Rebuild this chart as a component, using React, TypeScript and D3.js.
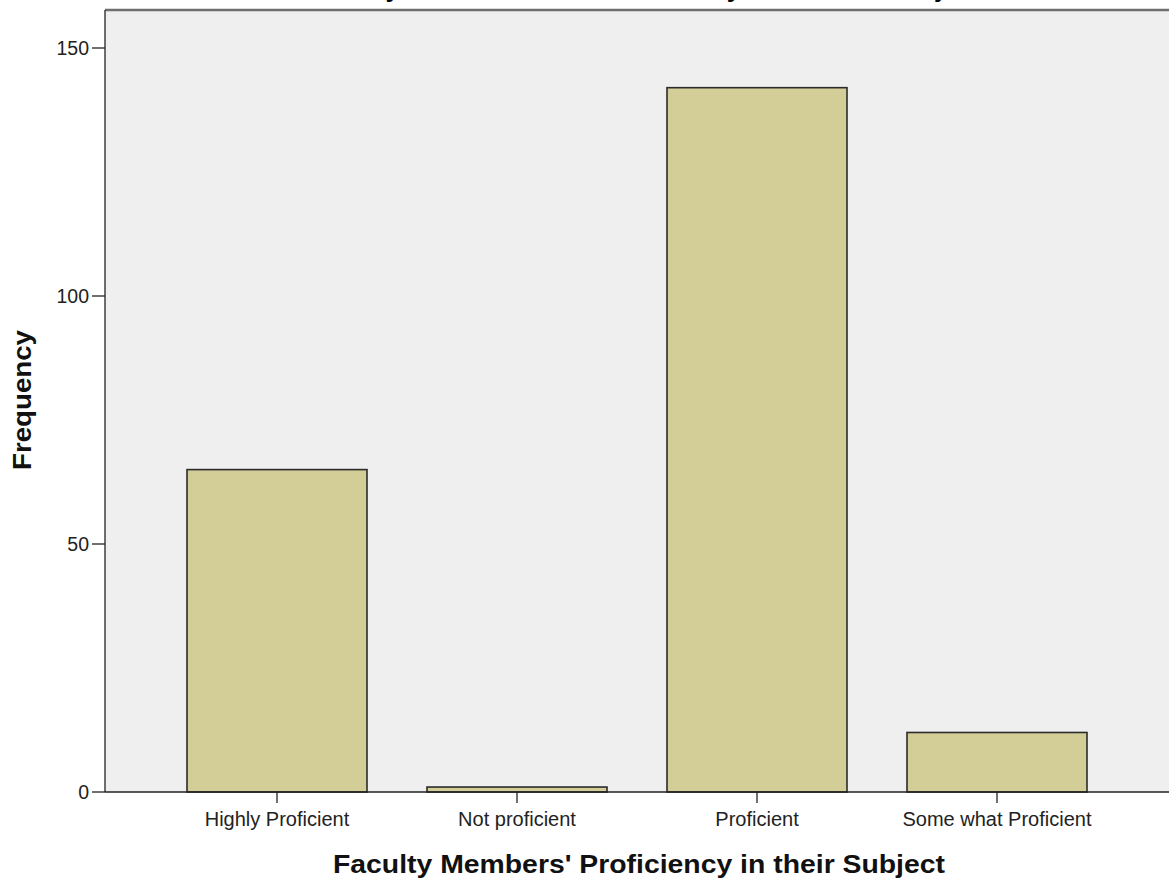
import React from "react";
import * as d3 from "d3";

const categories = ["Highly Proficient", "Not proficient", "Proficient", "Some what Proficient"];
const frequencies = [65, 1, 142, 12];
const yTicks = [0, 50, 100, 150];
const xTitle = "Faculty Members' Proficiency in their Subject";
const yTitle = "Frequency";

export default function App() {
  const W = 1169, H = 881;
  const left = 105, top = 10, bottom = 792;
  const x = d3.scaleBand<string>().domain(categories).range([157, 1117]).paddingInner(0.25).paddingOuter(0.125);
  const y = d3.scaleLinear().domain([0, 150]).range([bottom, 48]);
  const font = "'Liberation Sans', Arial, sans-serif";
  return (
    <div style={{ position: "absolute", left: 0, top: 0 }}>
      <svg width={W} height={H} style={{ display: "block", background: "#fff" }} fontFamily={font}>
        <text x={640} y={-3} textAnchor="middle" fontSize={26} fontWeight="bold" fill="#000" textLength={700} lengthAdjust="spacing">{xTitle}</text>
        <rect x={left} y={top} width={W - left + 2} height={bottom - top} fill="#efefef" />
        <line x1={left} x2={W} y1={top} y2={top} stroke="#6e6e6e" strokeWidth={2.5} />
        {categories.map((c, i) => (
          <rect key={c} x={x(c)!} y={y(frequencies[i])} width={x.bandwidth()} height={bottom - y(frequencies[i])}
            fill="#d3ce97" stroke="#2b2b2b" strokeWidth={1.6} />
        ))}
        <line x1={left} x2={left} y1={top} y2={bottom} stroke="#222" strokeWidth={1.3} />
        <line x1={left} x2={W} y1={bottom} y2={bottom} stroke="#222" strokeWidth={1.3} />
        {yTicks.map(t => (
          <g key={t}>
            <line x1={92} x2={left} y1={y(t)} y2={y(t)} stroke="#222" strokeWidth={1.3} />
            <text x={89} y={y(t) + 7} textAnchor="end" fontSize={19.5} fill="#222">{t}</text>
          </g>
        ))}
        {categories.map(c => {
          const cx = x(c)! + x.bandwidth() / 2;
          return (
            <g key={c}>
              <line x1={cx} x2={cx} y1={bottom} y2={803} stroke="#222" strokeWidth={1.3} />
              <text x={cx} y={826} textAnchor="middle" fontSize={20} fill="#222">{c}</text>
            </g>
          );
        })}
        <text x={639} y={873} textAnchor="middle" fontSize={25} fontWeight="bold" fill="#111" textLength={612} lengthAdjust="spacingAndGlyphs">{xTitle}</text>
        <text transform={`translate(31,400) rotate(-90)`} textAnchor="middle" fontSize={25} fontWeight="bold" fill="#111" textLength={140} lengthAdjust="spacingAndGlyphs">{yTitle}</text>
      </svg>
    </div>
  );
}
